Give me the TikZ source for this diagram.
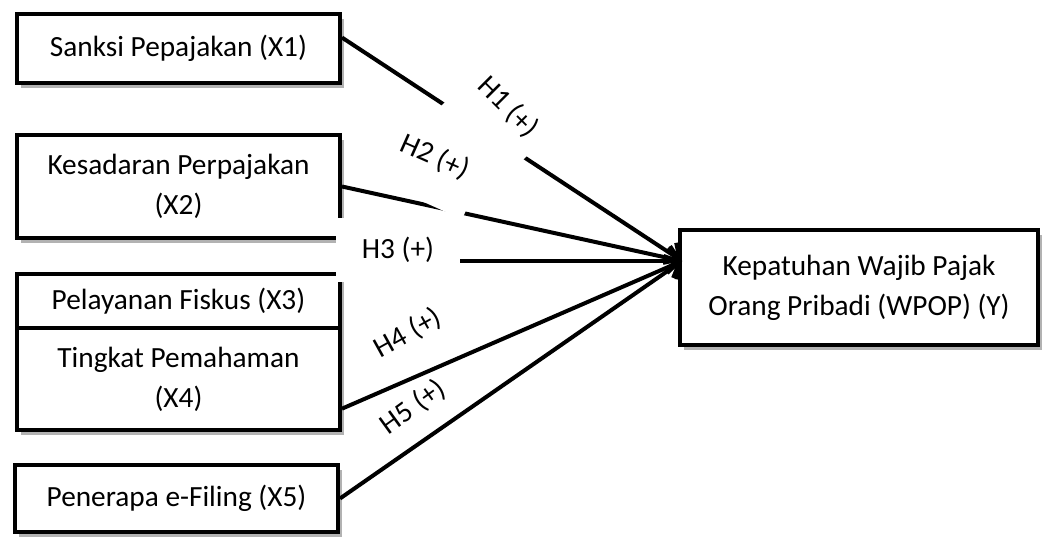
\documentclass[tikz,border=0pt]{standalone}
\usepackage{fontspec}
\setmainfont{Carlito}
\usetikzlibrary{arrows.meta,shadows,calc}
\begin{document}
\begin{tikzpicture}[x=1pt,y=-1pt,
  box/.style={draw=black, line width=4pt, fill=white, align=center, inner sep=0pt,
    minimum width=323pt, font=\fontsize{29.3}{40}\selectfont,
    drop shadow={shadow xshift=4pt, shadow yshift=-5pt, fill=black, opacity=0.3}},
  conn/.style={line width=4pt, -{Straight Barb[length=12pt,width=24pt]}},
  lbl/.style={fill=white, inner xsep=12pt, inner ysep=10pt, font=\fontsize{29.3}{34}\selectfont}]
\useasboundingbox (0,0) rectangle (1042,536);
% boxes
\node[box, minimum height=69pt] (b1) at (178.5,48.5) {Sanksi Pepajakan (X1)};
\node[box, minimum height=103pt] (b2) at (178.5,186.5) {Kesadaran Perpajakan\\(X2)};
\node[box, minimum height=54pt] (b3) at (178.5,301) {Pelayanan Fiskus (X3)};
\node[box, minimum height=102pt] (b4) at (178.5,379) {Tingkat Pemahaman\\(X4)};
\node[box, minimum height=67pt] (b5) at (176.5,498.5) {Penerapa e-Filing (X5)};
\node[box, minimum width=358pt, minimum height=115pt] (y) at (859,287.5) {Kepatuhan Wajib Pajak\\Orang Pribadi (WPOP) (Y)};
\coordinate (tip) at (682,261);
\coordinate (s1) at ($(b1.north east)!0.35!(b1.south east)$);
\coordinate (s4) at ($(b4.north east)!0.78!(b4.south east)$);
% connectors 1,2
\draw[conn] (s1) -- (tip);
\draw[conn] (b2.east) -- (tip);
\node[lbl, rotate=-24, inner ysep=33pt, inner xsep=14pt] (h2) at (435,157) {H2 (+)};
\node[lbl, rotate=-45, inner ysep=40pt, inner xsep=12pt] (h1) at (508,107) {H1 (+)};
% connectors 3,4,5
\node[lbl, inner xsep=26pt, inner ysep=19pt] (h3) at (398,250) {H3 (+)};
\draw[conn] (h3.east |- tip) -- (tip);
\node[lbl, rotate=29, inner ysep=8pt] (h4) at (408,333) {H4 (+)};
\draw[conn] (s4) -- (tip);
\draw[conn] (b5.east) -- (tip);
\node[lbl, rotate=36, inner ysep=2pt, inner xsep=4pt] (h5) at (413,407) {H5 (+)};
\end{tikzpicture}
\end{document}
